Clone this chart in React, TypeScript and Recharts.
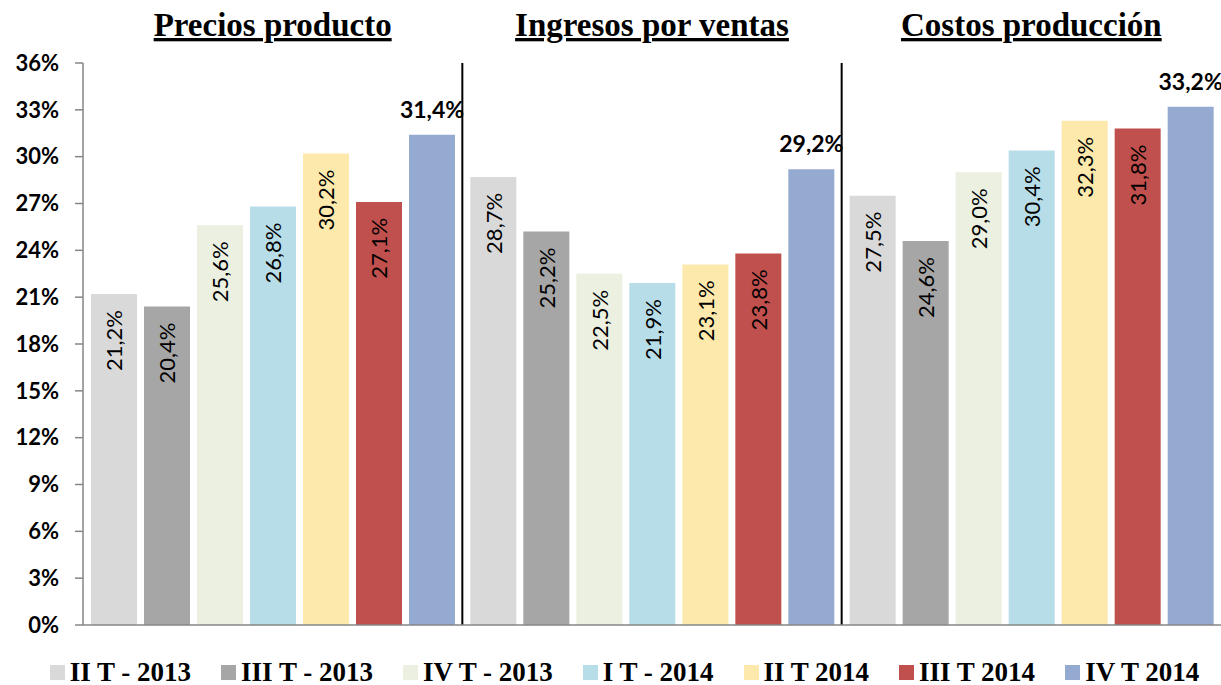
import React from "react";
import {
  Bar,
  BarChart,
  CartesianGrid,
  LabelList,
  Legend,
  XAxis,
  YAxis,
} from "recharts";

const categories = ["Precios producto", "Ingresos por ventas", "Costos producción"];

const seriesNames = [
  "II T - 2013",
  "III T - 2013",
  "IV T - 2013",
  "I T - 2014",
  "II T 2014",
  "III T 2014",
  "IV T 2014",
];

// one array per period, values in %, one per category
const iiT2013 = [21.2, 28.7, 27.5];
const iiiT2013 = [20.4, 25.2, 24.6];
const ivT2013 = [25.6, 22.5, 29.0];
const iT2014 = [26.8, 21.9, 30.4];
const iiT2014 = [30.2, 23.1, 32.3];
const iiiT2014 = [27.1, 23.8, 31.8];
const ivT2014 = [31.4, 29.2, 33.2];

const yTicks = [0, 3, 6, 9, 12, 15, 18, 21, 24, 27, 30, 33, 36];

const colors = [
  "#D9D9D9",
  "#A6A6A6",
  "#EBF0E0",
  "#B7DDE8",
  "#FCE9AB",
  "#C0504D",
  "#95AAD1",
];

const allSeries = [iiT2013, iiiT2013, ivT2013, iT2014, iiT2014, iiiT2014, ivT2014];
const keys = seriesNames.map((_, i) => `s${i}`);

const data = categories.map((name, c) => {
  const row: Record<string, string | number> = { name };
  allSeries.forEach((s, i) => {
    row[keys[i]] = s[c];
  });
  return row;
});

const fmt = (v: number) => v.toFixed(1).replace(".", ",") + "%";

const labelFont = "Lato, 'Open Sans', sans-serif";
const serifFont = "'Liberation Serif', 'Times New Roman', serif";

function RotatedLabel(props: any) {
  const { x, y, width, value } = props;
  const cx = Number(x) + Number(width) / 2;
  const top = Number(y) + 16;
  return (
    <text
      x={cx}
      y={top}
      transform={`rotate(-90 ${cx} ${top})`}
      textAnchor="end"
      dominantBaseline="central"
      style={{ fontFamily: labelFont, fontSize: 22 }}
      fill="#000"
    >
      {fmt(Number(value))}
    </text>
  );
}

function TopLabel(props: any) {
  const { x, y, width, value } = props;
  return (
    <text
      x={Number(x) + Number(width) / 2}
      y={Number(y) - 17}
      textAnchor="middle"
      style={{ fontFamily: labelFont, fontWeight: "bold", fontSize: 23 }}
      fill="#000"
    >
      {fmt(Number(value))}
    </text>
  );
}

function TitleTick(props: any) {
  const { x, y, payload } = props;
  return (
    <text
      x={x}
      y={Number(y) - 27}
      textAnchor="middle"
      style={{
        fontFamily: serifFont,
        fontWeight: "bold",
        fontSize: 33,
        textDecoration: "underline",
      }}
      fill="#000"
    >
      {payload.value}
    </text>
  );
}

function LegendContent() {
  return (
    <div
      style={{
        display: "flex",
        justifyContent: "center",
        alignItems: "center",
        gap: 30,
        paddingLeft: 28,
        paddingTop: 4,
        height: 26,
        fontFamily: serifFont,
        fontWeight: "bold",
        fontSize: 27,
        color: "#000",
        lineHeight: "26px",
        whiteSpace: "nowrap",
      }}
    >
      {seriesNames.map((n, i) => (
        <span key={n} style={{ display: "flex", alignItems: "center" }}>
          <span
            style={{
              display: "inline-block",
              width: 15,
              height: 15,
              background: colors[i],
              marginRight: 5,
            }}
          />
          {n}
        </span>
      ))}
    </div>
  );
}

export default function App() {
  return (
    <div style={{ position: "absolute", left: 0, top: 0, width: 1221, height: 685, background: "#fff" }}>
      <BarChart
        width={1221}
        height={685}
        data={data}
        margin={{ top: 0, right: 0, left: 0, bottom: 0 }}
        barCategoryGap={8}
        barGap={7}
      >
        <CartesianGrid
          horizontal={false}
          vertical
          stroke="#000"
          strokeWidth={2}
          verticalCoordinatesGenerator={({ offset }: any) => [
            offset.left + offset.width / 3,
            offset.left + (2 * offset.width) / 3,
          ]}
        />
        <XAxis
          xAxisId="top"
          orientation="top"
          dataKey="name"
          height={63}
          axisLine={false}
          tickLine={false}
          tickSize={0}
          tickMargin={0}
          tick={(p: any) => <TitleTick {...p} />}
          interval={0}
        />
        <XAxis
          dataKey="name"
          height={30}
          tick={false}
          tickLine={false}
          axisLine={{ stroke: "#868686", strokeWidth: 1.5 }}
        />
        <YAxis
          width={83}
          domain={[0, 36]}
          ticks={yTicks}
          interval={0}
          tickFormatter={(v: number) => `${v}%`}
          tickSize={8}
          tickMargin={16}
          axisLine={{ stroke: "#868686", strokeWidth: 1.5 }}
          tickLine={{ stroke: "#868686", strokeWidth: 1.5 }}
          tick={{ fill: "#000", fontFamily: labelFont, fontWeight: "bold", fontSize: 22 }}
        />
        <Legend verticalAlign="bottom" height={30} content={<LegendContent />} />
        {keys.map((k, i) => (
          <Bar
            key={k}
            dataKey={k}
            name={seriesNames[i]}
            fill={colors[i]}
            isAnimationActive={false}
          >
            <LabelList dataKey={k} content={i === 6 ? <TopLabel /> : <RotatedLabel />} />
          </Bar>
        ))}
      </BarChart>
    </div>
  );
}
